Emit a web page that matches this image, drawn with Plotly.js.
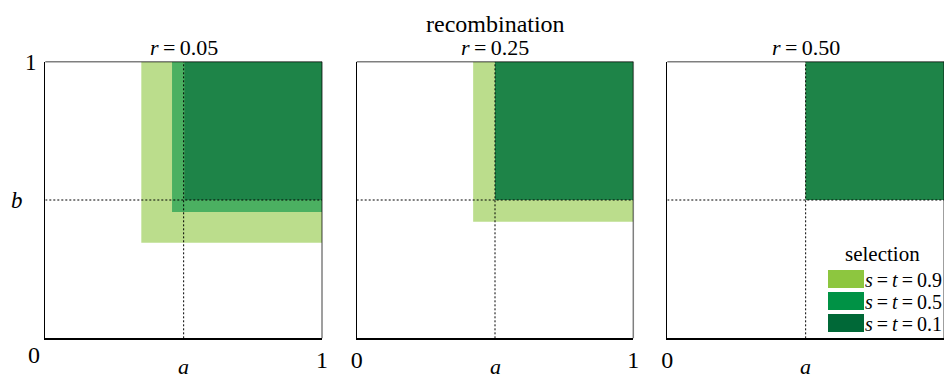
<!DOCTYPE html>
<html><head><meta charset="utf-8">
<script src="https://cdn.plot.ly/plotly-3.0.1.min.js"></script>
<style>body{margin:0;background:#fff;} #chart{width:944px;height:381px;}</style>
</head><body><div id="chart"></div>
<script>
// ---- data ----
const figureTitle = 'recombination';
const recombinationRates = ['0.05', '0.25', '0.50'];
const selectionLabels = ['<i>s</i>\u2009=\u2009<i>t</i>\u2009=\u20090.9', '<i>s</i>\u2009=\u2009<i>t</i>\u2009=\u20090.5', '<i>s</i>\u2009=\u2009<i>t</i>\u2009=\u20090.1'];
const selectionColors = ['141,198,63', '0,146,69', '0,104,55'];
// lower-left corner (a, b) of the region, per selection level (0.9, 0.5, 0.1)
const aMin_r005 = [0.347, 0.458, 0.503];
const bMin_r005 = [0.345, 0.457, 0.500];
const aMin_r025 = [0.421, 0.500, 0.500];
const bMin_r025 = [0.421, 0.500, 0.500];
const aMin_r050 = [0.500, 0.500, 0.500];
const bMin_r050 = [0.500, 0.500, 0.500];
const refA = 0.5;
const refB = 0.5;
const xTickVals = [0, 1];
const xTickText = ['0', '1'];
const yTickVals = [1];
const yTickText = ['1'];
const xLabel = 'a';
const yLabel = 'b';
const legendTitle = 'selection';

// ---- build ----
const FONT = 'Liberation Serif';
const aMins = [aMin_r005, aMin_r025, aMin_r050];
const bMins = [bMin_r005, bMin_r025, bMin_r050];
const W = 944, H = 381;
const xDomains = [[45.3 / W, 322 / W], [356.7 / W, 633.3 / W], [667.3 / W, 1.0]];
const yDomain = [1 - 338.3 / H, 1 - 61.7 / H];

const traces = [];
const layout = {
  width: W, height: H,
  margin: {l: 0, r: 0, t: 0, b: 0},
  paper_bgcolor: '#fff', plot_bgcolor: '#fff',
  showlegend: false,
  font: {family: FONT, size: 22, color: '#000'},
  shapes: [], annotations: []
};

for (let p = 0; p < 3; p++) {
  const xa = p === 0 ? 'x' : 'x' + (p + 1);
  const ya = p === 0 ? 'y' : 'y' + (p + 1);
  for (let k = 0; k < 3; k++) {
    const a = aMins[p][k], b = bMins[p][k];
    traces.push({
      type: 'scatter', mode: 'lines', xaxis: xa, yaxis: ya,
      x: [a, 1, 1, a, a], y: [b, b, 1, 1, b],
      fill: 'toself', fillcolor: 'rgba(' + selectionColors[k] + ',0.6)',
      line: {width: 0}, hoverinfo: 'skip', name: selectionLabels[k]
    });
  }
  traces.push({type: 'scatter', mode: 'lines', xaxis: xa, yaxis: ya,
    x: [refA, refA], y: [0, 1], line: {color: '#000', width: 1, dash: '2px,2px'}, hoverinfo: 'skip'});
  traces.push({type: 'scatter', mode: 'lines', xaxis: xa, yaxis: ya,
    x: [0, 1], y: [refB, refB], line: {color: '#000', width: 1, dash: '2px,2px'}, hoverinfo: 'skip'});

  const xk = p === 0 ? 'xaxis' : 'xaxis' + (p + 1);
  const yk = p === 0 ? 'yaxis' : 'yaxis' + (p + 1);
  layout[xk] = {
    domain: xDomains[p], range: [0, 1], anchor: ya,
    showline: true, linecolor: '#000', linewidth: 1.2, mirror: false,
    showgrid: false, zeroline: false, ticks: '', fixedrange: true,
    tickvals: p === 0 ? xTickVals.slice(1) : xTickVals,
    ticktext: p === 0 ? xTickText.slice(1) : xTickText,
    ticklabelstandoff: 0,
    tickfont: {family: FONT, size: 24, color: '#000'}
  };
  layout[yk] = {
    domain: yDomain, range: [0, 1], anchor: xa,
    showline: true, linecolor: '#000', linewidth: 1.2,
    showgrid: false, zeroline: false, ticks: '', fixedrange: true,
    tickvals: yTickVals, ticktext: yTickText, showticklabels: p === 0,
    ticklabelstandoff: 3,
    tickfont: {family: FONT, size: 23, color: '#000'}
  };
  layout.shapes.push({type: 'line', xref: xa + ' domain', yref: ya + ' domain', x0: 0, x1: 1, y0: 1, y1: 1,
    line: {color: 'rgba(0,0,0,0.5)', width: 1.5}, layer: 'above'});
  layout.shapes.push({type: 'line', xref: xa + ' domain', yref: ya + ' domain', x0: 1, x1: 1, y0: 0, y1: 1,
    line: {color: 'rgba(0,0,0,0.5)', width: 1.5}, layer: 'above'});
  layout.annotations.push({xref: xa + ' domain', yref: 'paper', x: 0.5, y: 1 - 47.5 / H,
    xanchor: 'center', yanchor: 'middle', showarrow: false,
    text: '<i>r</i>\u2009=\u2009' + recombinationRates[p], font: {family: FONT, size: 22, color: '#000'}});
  layout.annotations.push({xref: xa + ' domain', yref: 'paper', x: 0.5, y: 1 - 366 / H,
    xanchor: 'center', yanchor: 'middle', showarrow: false,
    text: '<i>' + xLabel + '</i>', font: {family: FONT, size: 22, color: '#000'}});
}
layout.annotations.push({xref: 'paper', yref: 'paper', x: 34 / W, y: 1 - 355 / H,
  xanchor: 'center', yanchor: 'middle', showarrow: false, text: xTickText[0], font: {family: FONT, size: 24, color: '#000'}});
layout.annotations.push({xref: 'paper', yref: 'y', x: 17 / W, y: refB,
  xanchor: 'center', yanchor: 'middle', showarrow: false, text: '<i>' + yLabel + '</i>', font: {family: FONT, size: 23, color: '#000'}});
layout.annotations.push({xref: 'x2 domain', yref: 'paper', x: 0.5, y: 1 - 24 / H,
  xanchor: 'center', yanchor: 'middle', showarrow: false, text: figureTitle, font: {family: FONT, size: 24, color: '#000'}});

layout.annotations.push({xref: 'paper', yref: 'paper', x: 882 / W, y: 1 - 254 / H,
  xanchor: 'center', yanchor: 'middle', showarrow: false, text: legendTitle, font: {family: FONT, size: 21, color: '#000'}});
const swTop = [270, 292, 314];
for (let k = 0; k < 3; k++) {
  layout.shapes.push({type: 'rect', xref: 'paper', yref: 'paper', layer: 'above',
    x0: 828 / W, x1: 864 / W, y0: 1 - swTop[k] / H, y1: 1 - (swTop[k] + 18) / H,
    fillcolor: 'rgb(' + selectionColors[k] + ')', line: {width: 0}});
  layout.annotations.push({xref: 'paper', yref: 'paper', x: 863 / W, y: 1 - (swTop[k] + 10) / H,
    xanchor: 'left', yanchor: 'middle', showarrow: false, text: selectionLabels[k],
    font: {family: FONT, size: 20, color: '#000'}});
}

Plotly.newPlot('chart', traces, layout, {displayModeBar: false, staticPlot: true});
</script></body></html>
